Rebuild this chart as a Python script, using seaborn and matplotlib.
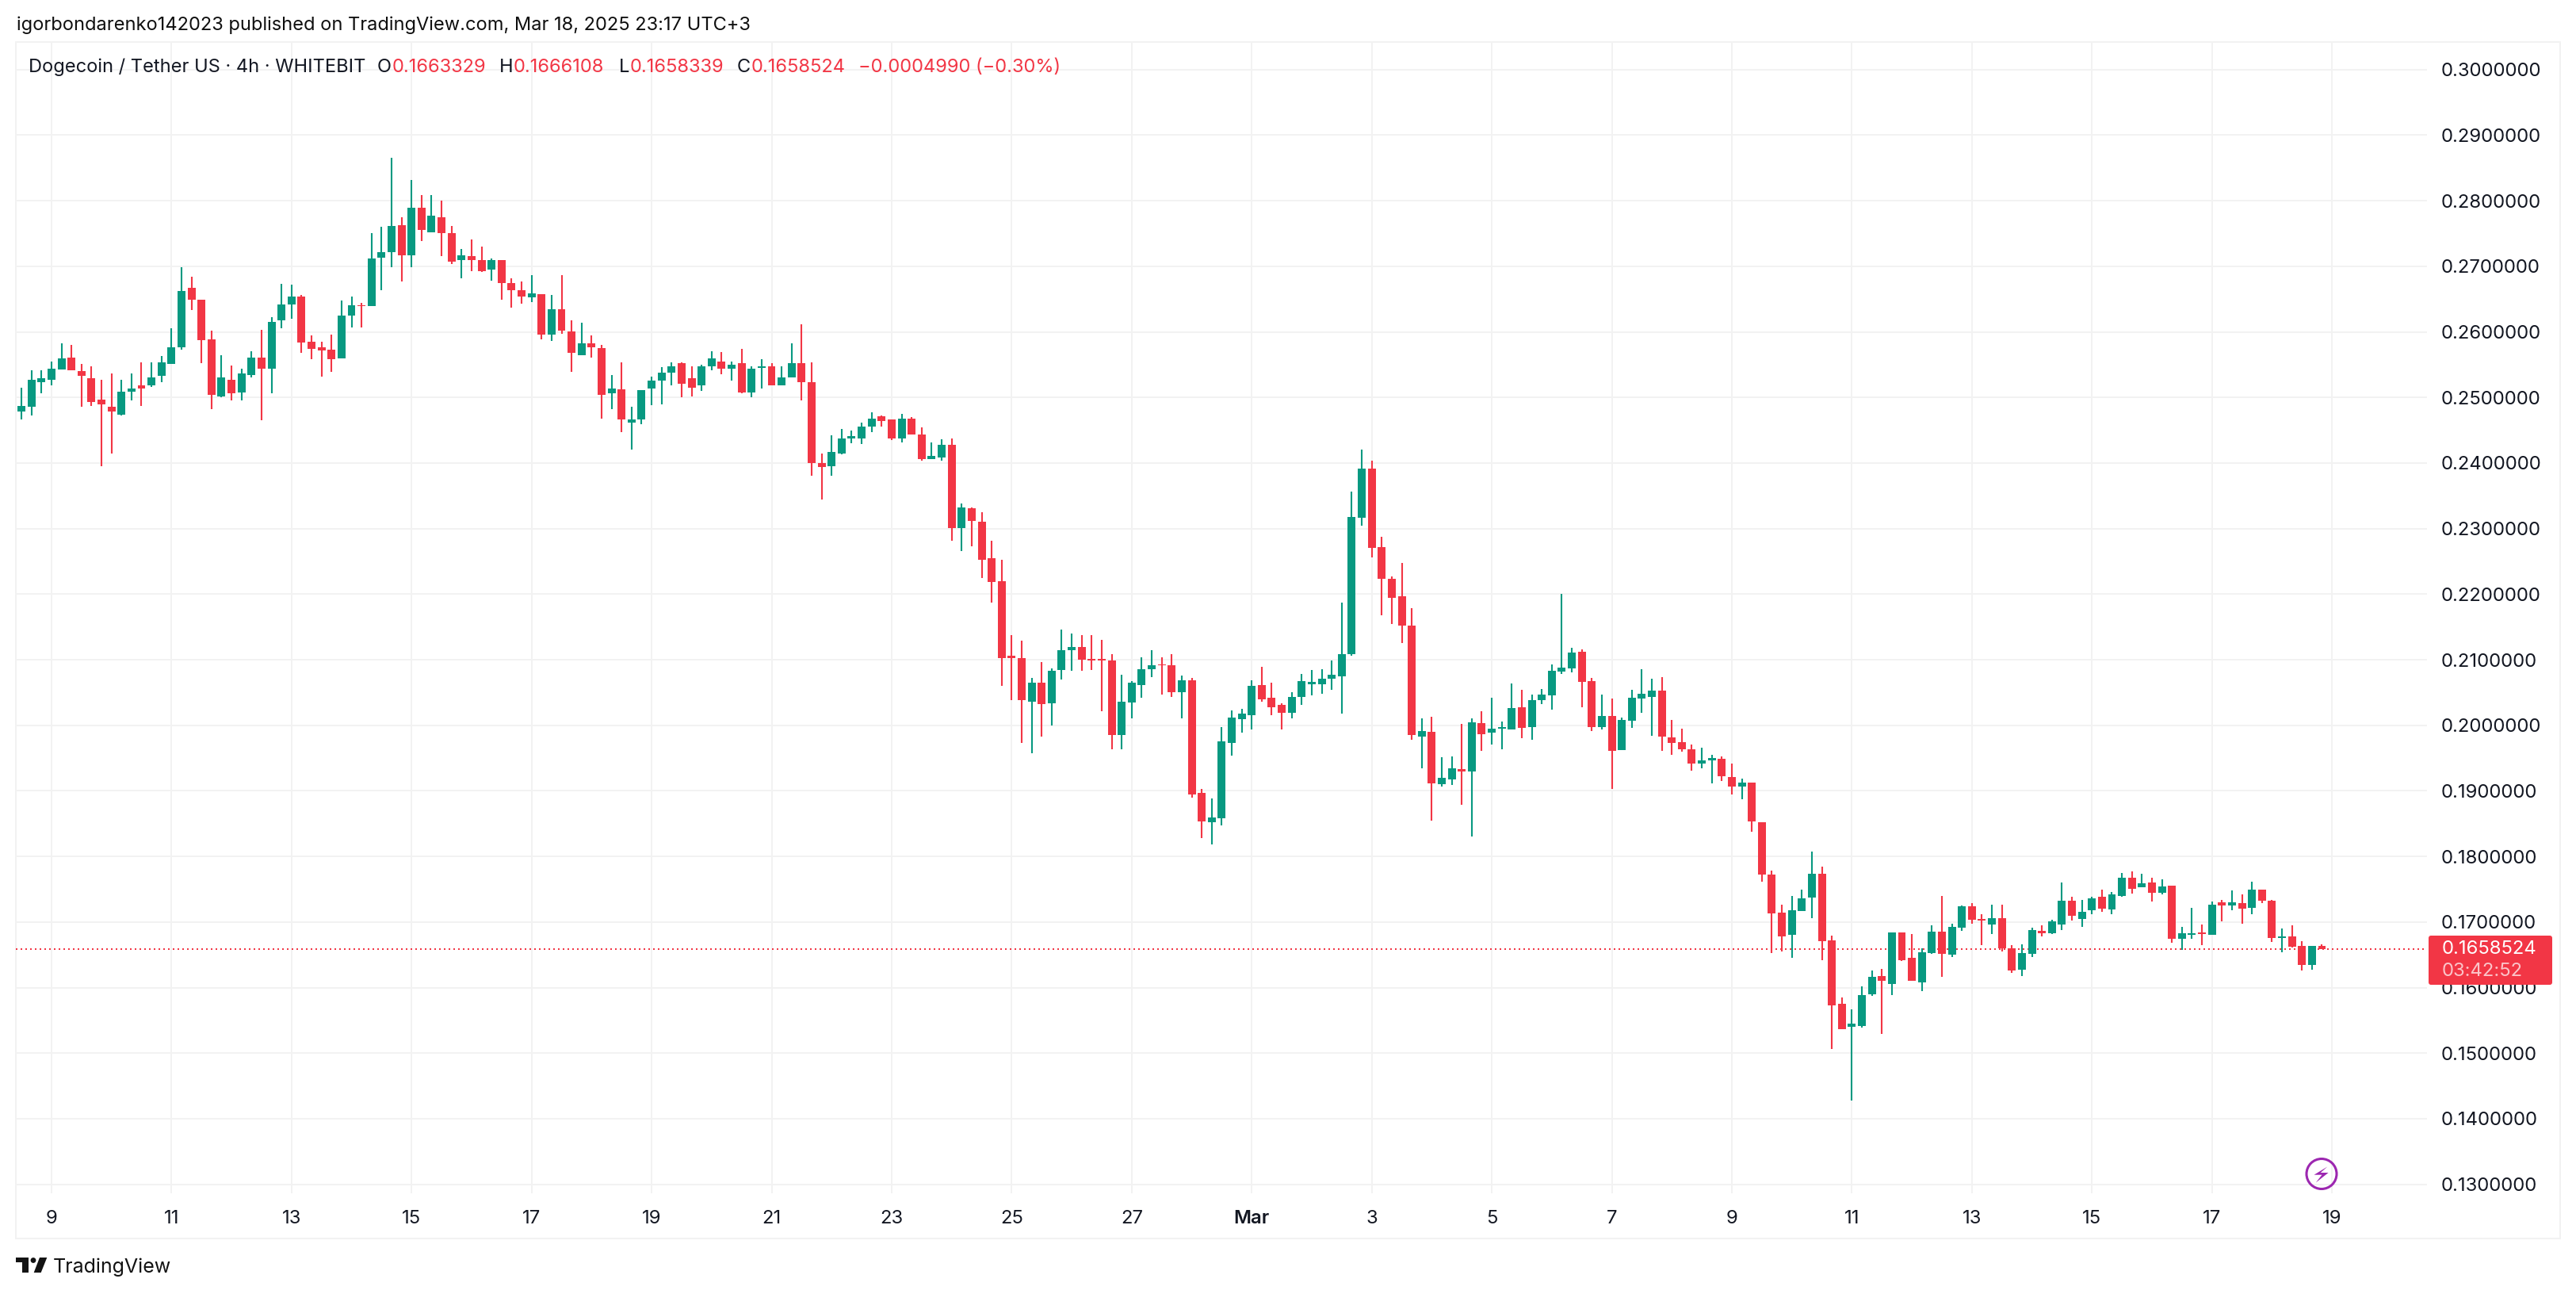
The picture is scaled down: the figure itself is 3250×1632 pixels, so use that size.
import numpy as np
import pandas as pd
import matplotlib.pyplot as plt
import seaborn as sns
from matplotlib.patches import Rectangle, Circle, Polygon, FancyBboxPatch
from matplotlib.transforms import IdentityTransform

# 4h candles, Feb 8 2025 12:00 -> Mar 18 2025 20:00
opens = [
    .2479, .2486, .2523, .2527, .2543, .2561, .2540, .2529, .2497, .2486,
    .2474, .2509, .2518, .2519, .2533, .2551, .2577, .2667, .2649, .2589,
    .2502, .2527, .2507, .2534, .2561, .2544, .2617, .2642, .2654, .2585,
    .2576, .2573, .2560, .2625, .2641, .2639, .2713, .2721, .2763, .2717,
    .2789, .2752, .2775, .2750, .2710, .2715, .2710, .2695, .2709, .2675,
    .2663, .2653, .2658, .2596, .2635, .2601, .2564, .2583, .2575, .2506,
    .2512, .2461, .2467, .2513, .2526, .2538, .2552, .2529, .2519, .2548,
    .2555, .2544, .2552, .2508, .2545, .2548, .2519, .2531, .2552, .2523,
    .2400, .2395, .2415, .2438, .2438, .2455, .2471, .2466, .2438, .2468,
    .2444, .2406, .2409, .2428, .2301, .2331, .2311, .2255, .2220, .2106,
    .2103, .2036, .2065, .2034, .2084, .2115, .2120, .2101, .2101, .2099,
    .1985, .2035, .2061, .2086, .2093, .2091, .2050, .2069, .1897, .1852,
    .1858, .1973, .2009, .2016, .2061, .2042, .2031, .2019, .2043, .2063,
    .2062, .2071, .2075, .2109, .2317, .2392, .2272, .2223, .2197, .2152,
    .1983, .1990, .1910, .1917, .1933, .1929, .2003, .1989, .1995, .1994,
    .2027, .1997, .2038, .2046, .2082, .2087, .2112, .2068, .1997, .2014,
    .1962, .2007, .2041, .2043, .2053, .1982, .1974, .1963, .1942, .1946,
    .1949, .1921, .1907, .1913, .1852, .1772, .1714, .1680, .1717, .1737,
    .1774, .1672, .1575, .1540, .1541, .1590, .1618, .1606, .1684, .1646,
    .1608, .1653, .1685, .1650, .1691, .1724, .1705, .1696, .1706, .1660,
    .1627, .1651, .1686, .1683, .1696, .1733, .1705, .1718, .1738, .1719,
    .1740, .1768, .1753, .1760, .1744, .1755, .1674, .1680, .1684, .1680,
    .1730, .1725, .1729, .1721, .1749, .1733, .1676, .1678, .1663, .1635, .1663329,
]
highs = [
    .2515, .2542, .2542, .2555, .2583, .2580, .2551, .2547, .2527, .2536,
    .2527, .2536, .2553, .2554, .2563, .2606, .2698, .2684, .2649, .2602,
    .2564, .2549, .2544, .2571, .2603, .2623, .2673, .2672, .2656, .2595,
    .2585, .2596, .2648, .2654, .2644, .2750, .2760, .2866, .2775, .2832,
    .2809, .2809, .2800, .2762, .2727, .2741, .2730, .2712, .2709, .2682,
    .2677, .2687, .2658, .2656, .2686, .2618, .2614, .2595, .2580, .2534,
    .2554, .2486, .2511, .2532, .2546, .2553, .2553, .2548, .2550, .2571,
    .2569, .2555, .2574, .2548, .2558, .2552, .2547, .2583, .2612, .2554,
    .2415, .2442, .2452, .2449, .2462, .2477, .2472, .2466, .2475, .2470,
    .2454, .2431, .2436, .2438, .2338, .2332, .2325, .2282, .2252, .2138,
    .2129, .2072, .2096, .2087, .2146, .2140, .2138, .2138, .2130, .2109,
    .2077, .2067, .2104, .2115, .2104, .2109, .2076, .2072, .1903, .1889,
    .1997, .2023, .2025, .2069, .2089, .2065, .2034, .2050, .2078, .2084,
    .2085, .2099, .2187, .2356, .2421, .2403, .2288, .2227, .2248, .2179,
    .2010, .2013, .1951, .1952, .2002, .2010, .2021, .2042, .2006, .2064,
    .2054, .2047, .2055, .2093, .2200, .2118, .2116, .2072, .2047, .2041,
    .2012, .2054, .2085, .2071, .2074, .2008, .1995, .1971, .1966, .1955,
    .1952, .1942, .1919, .1913, .1852, .1779, .1726, .1740, .1750, .1807,
    .1784, .1679, .1585, .1567, .1602, .1626, .1628, .1684, .1684, .1682,
    .1660, .1695, .1740, .1698, .1725, .1729, .1712, .1726, .1726, .1665,
    .1666, .1691, .1695, .1703, .1760, .1739, .1734, .1738, .1750, .1746,
    .1775, .1777, .1774, .1767, .1765, .1755, .1692, .1721, .1696, .1731,
    .1734, .1748, .1742, .1762, .1750, .1734, .1690, .1695, .1671, .1664, .1666108,
]
lows = [
    .2467, .2473, .2506, .2518, .2543, .2541, .2486, .2487, .2395, .2415,
    .2473, .2496, .2487, .2516, .2523, .2551, .2573, .2633, .2552, .2482,
    .2500, .2496, .2495, .2530, .2465, .2506, .2606, .2620, .2568, .2558,
    .2532, .2539, .2560, .2607, .2607, .2639, .2664, .2699, .2677, .2699,
    .2738, .2752, .2715, .2703, .2682, .2692, .2691, .2678, .2649, .2637,
    .2643, .2646, .2589, .2586, .2597, .2539, .2564, .2561, .2468, .2482,
    .2447, .2420, .2459, .2488, .2490, .2519, .2500, .2502, .2510, .2542,
    .2535, .2526, .2506, .2500, .2513, .2518, .2519, .2530, .2496, .2380,
    .2344, .2381, .2413, .2430, .2429, .2447, .2455, .2435, .2431, .2443,
    .2403, .2406, .2403, .2282, .2266, .2273, .2225, .2187, .2060, .2038,
    .1973, .1957, .1983, .2000, .2070, .2083, .2083, .2084, .2022, .1963,
    .1964, .2011, .2042, .2073, .2047, .2043, .2011, .1890, .1828, .1818,
    .1847, .1954, .1989, .1994, .2036, .2015, .1994, .2010, .2031, .2046,
    .2048, .2054, .2018, .2106, .2304, .2256, .2168, .2155, .2126, .1978,
    .1934, .1855, .1906, .1909, .1879, .1831, .1961, .1971, .1963, .1994,
    .1980, .1978, .2032, .2024, .2078, .2081, .2027, .1991, .1994, .1903,
    .1962, .1996, .2019, .1984, .1961, .1955, .1960, .1931, .1934, .1911,
    .1915, .1894, .1887, .1838, .1761, .1653, .1655, .1645, .1717, .1706,
    .1642, .1506, .1536, .1428, .1539, .1587, .1529, .1588, .1640, .1610,
    .1595, .1651, .1616, .1647, .1686, .1698, .1665, .1682, .1655, .1622,
    .1618, .1647, .1678, .1682, .1688, .1702, .1692, .1712, .1715, .1712,
    .1738, .1743, .1753, .1731, .1742, .1668, .1658, .1675, .1665, .1680,
    .1701, .1718, .1697, .1712, .1729, .1669, .1654, .1661, .1626, .1627, .1658339,
]
closes = [
    .2487, .2527, .2529, .2544, .2560, .2541, .2533, .2493, .2489, .2479,
    .2509, .2513, .2513, .2530, .2553, .2577, .2662, .2649, .2587, .2504,
    .2530, .2506, .2536, .2561, .2544, .2615, .2642, .2654, .2584, .2574,
    .2572, .2558, .2625, .2640, .2639, .2712, .2721, .2761, .2717, .2789,
    .2756, .2777, .2750, .2707, .2717, .2710, .2693, .2710, .2675, .2664,
    .2654, .2659, .2596, .2635, .2602, .2568, .2583, .2577, .2504, .2513,
    .2466, .2467, .2511, .2526, .2538, .2548, .2521, .2515, .2548, .2560,
    .2544, .2550, .2507, .2544, .2548, .2519, .2531, .2552, .2523, .2400,
    .2394, .2417, .2438, .2441, .2455, .2468, .2464, .2437, .2468, .2443,
    .2406, .2411, .2428, .2301, .2332, .2312, .2253, .2218, .2103, .2103,
    .2038, .2065, .2032, .2083, .2114, .2120, .2100, .2099, .2099, .1985,
    .2036, .2065, .2086, .2092, .2091, .2050, .2069, .1895, .1853, .1859,
    .1975, .2012, .2018, .2060, .2040, .2028, .2019, .2043, .2067, .2066,
    .2071, .2077, .2108, .2318, .2392, .2270, .2223, .2194, .2152, .1985,
    .1991, .1912, .1920, .1935, .1929, .2004, .1987, .1995, .1997, .2026,
    .1996, .2039, .2047, .2083, .2088, .2111, .2066, .1997, .2014, .1961,
    .2008, .2042, .2048, .2053, .1983, .1973, .1963, .1942, .1946, .1950,
    .1922, .1907, .1913, .1853, .1772, .1713, .1678, .1718, .1736, .1773,
    .1671, .1573, .1537, .1545, .1588, .1616, .1610, .1684, .1642, .1610,
    .1654, .1685, .1651, .1692, .1724, .1703, .1702, .1706, .1660, .1626,
    .1653, .1688, .1683, .1701, .1732, .1709, .1715, .1736, .1720, .1742,
    .1767, .1751, .1759, .1745, .1754, .1675, .1683, .1683, .1682, .1727,
    .1725, .1730, .1720, .1749, .1732, .1676, .1678, .1662, .1635, .1663, .1658524,
]

price_ticks = [.13, .14, .15, .16, .17, .18, .19, .20, .21, .22, .23, .24, .25,
               .26, .27, .28, .29, .30]
date_labels = ['9', '11', '13', '15', '17', '19', '21', '23', '25', '27', 'Mar',
               '3', '5', '7', '9', '11', '13', '15', '17', '19']

GREEN = '#089981'
RED = '#F23645'
GRID = '#F2F2F2'
INK = '#131722'
W, H = 3250, 1632

sns.set_theme(style='white')
plt.rcParams['font.family'] = ['Inter', 'DejaVu Sans']

df = pd.DataFrame({'open': opens, 'high': highs, 'low': lows, 'close': closes})
df['idx'] = np.arange(len(df))
df['up'] = df['close'] >= df['open']
df['body_low'] = df[['open', 'close']].min(axis=1)
df['body_h'] = (df['open'] - df['close']).abs()

fig = plt.figure(figsize=(W / 100, H / 100), dpi=100, facecolor='white')
ax = fig.add_axes([20 / W, 1 - 1505 / H, (3062 - 20) / W, (1505 - 53) / H])
ax.set_facecolor('none')

# outer frame of the chart pane
fig.add_artist(Rectangle((20 / W, 1 - 1562 / H), 3210 / W, 1509 / H, fill=False,
                         edgecolor=GRID, linewidth=1.44, transform=fig.transFigure, zorder=-1))

# wicks
wicks = df.melt(id_vars=['idx', 'up'], value_vars=['high', 'low'], value_name='price')
sns.lineplot(data=wicks, x='idx', y='price', units='idx', estimator=None, hue='up',
             palette={True: GREEN, False: RED}, legend=False, linewidth=1.5,
             solid_capstyle='butt', sort=False, ax=ax, zorder=3)

# bodies
for is_up, color in [(True, GREEN), (False, RED)]:
    part = df[df['up'] == is_up]
    sns.barplot(data=part, x='idx', y='body_h', bottom=part['body_low'].to_numpy(),
                native_scale=True, width=0.79, color=color, saturation=1,
                linewidth=0, errorbar=None, ax=ax, zorder=4)

# last price line
ax.axhline(closes[-1], color=RED, linewidth=1.44, linestyle=(0, (1, 2)), zorder=2)

ax.set_xlim(-0.56, 240.5)
ax.set_ylim(0.12863, 0.30420)
ax.set_xlabel('')
ax.set_ylabel('')
ax.yaxis.tick_right()
ax.set_yticks(price_ticks)
ax.set_yticklabels([f'{p:.7f}' for p in price_ticks])
ax.set_xticks(3 + 12 * np.arange(len(date_labels)))
ax.set_xticklabels(date_labels)
ax.tick_params(axis='y', length=0, pad=13, labelsize=17.2, labelcolor=INK)
ax.tick_params(axis='x', length=0, pad=15, labelsize=17.2, labelcolor=INK)
ax.get_xticklabels()[date_labels.index('Mar')].set_fontweight('semibold')
ax.grid(True, color=GRID, linewidth=1.44, zorder=0)
ax.set_axisbelow(True)
sns.despine(ax=ax, left=True, bottom=True, right=True, top=True)


def label(x, y, s, color=INK, size=17, **kw):
    fig.text(x / W, 1 - y / H, s, color=color, fontsize=size, va='center', **kw)


# header lines
label(21, 32, 'igorbondarenko142023 published on TradingView.com, Mar 18, 2025 23:17 UTC+3',
      color='#0f0f0f', size=17)
label(36, 85, 'Dogecoin / Tether US · 4h · WHITEBIT')
for x, s in [(476, 'O'), (630, 'H'), (781, 'L'), (930, 'C')]:
    label(x, 85, s)
for x, s in [(495, '0.1663329'), (648, '0.1666108'), (795, '0.1658339'), (948, '0.1658524'),
             (1083, '−0.0004990 (−0.30%)')]:
    label(x, 85, s, color=RED)

# price tag on the axis
fig.add_artist(FancyBboxPatch((3064, H - 1242), 156, 62, boxstyle='round,pad=0,rounding_size=3',
                              facecolor=RED, edgecolor='none', transform=IdentityTransform(), zorder=5))
fig.text(3081 / W, 1 - 1197 / H, f'{closes[-1]:.7f}', color='white', fontsize=17.2, va='center', zorder=6)
fig.text(3081 / W, 1 - 1225 / H, '03:42:52', color='#FBC4C9', fontsize=17.2, va='center', zorder=6)

# purple lightning badge
fig.add_artist(Circle((2929, H - 1480.5), 19, fill=False, edgecolor='#9C27B0', linewidth=2.2,
                      transform=IdentityTransform(), zorder=6))
bolt = [(2936.3, 1471.5), (2919.5, 1481.7), (2929.5, 1481.7), (2921.8, 1491.5), (2937.6, 1479), (2927.7, 1479)]
fig.add_artist(Polygon([(x, H - y) for x, y in bolt], closed=True, facecolor='#9C27B0',
                       edgecolor='none', transform=IdentityTransform(), zorder=6))

# TradingView logo
logo = '#131313'
fig.add_artist(Polygon([(x, H - y) for x, y in [(20, 1586), (35.7, 1586), (35.7, 1605), (28.3, 1605),
                                                (28.3, 1592.3), (20, 1592.3)]],
                       closed=True, facecolor=logo, edgecolor='none', transform=IdentityTransform()))
fig.add_artist(Circle((42, H - 1589.5), 3.4, facecolor=logo, edgecolor='none', transform=IdentityTransform()))
fig.add_artist(Polygon([(x, H - y) for x, y in [(50, 1586), (59.3, 1586), (51.7, 1605), (42.7, 1605)]],
                       closed=True, facecolor=logo, edgecolor='none', transform=IdentityTransform()))
label(67, 1598, 'TradingView', color='#131313', size=18)

fig.savefig('out.png', dpi=100)
